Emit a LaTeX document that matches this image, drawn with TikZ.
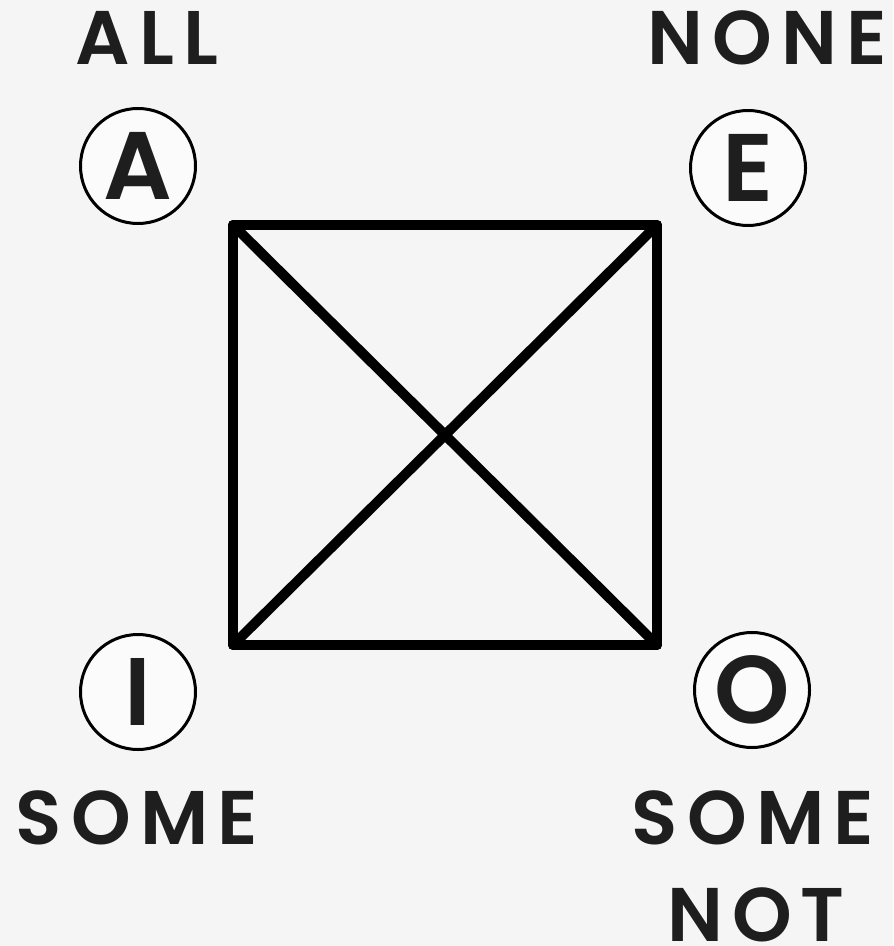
\documentclass[tikz,border=0pt]{standalone}
\usepackage{fontspec}
\setmainfont{Poppins}[BoldFont=Poppins SemiBold]
\newfontfamily\spacedfont{Poppins}[BoldFont=Poppins SemiBold, LetterSpace=12]
\usetikzlibrary{positioning}
\definecolor{paper}{HTML}{F5F5F5}
\definecolor{ink}{HTML}{1E1E1E}

\begin{document}
\begin{tikzpicture}[
	x=0.5pt, y=-0.5pt,
	letter/.style={
		circle,
		draw=black,
		line width=1.5pt,
		fill=white!60!paper,
		minimum size=57.5pt,
		inner sep=0pt,
		text=ink,
		font=\fontsize{48}{48}\selectfont\bfseries
	},
	quantifier/.style={
		text=ink,
		inner sep=0pt,
		font=\spacedfont\fontsize{38}{40}\selectfont\bfseries
	},
	edge/.style={
		line width=5pt,
		line cap=round,
		line join=round
	}
	]
	\fill[paper] (0,0) rectangle (893,946);
	\useasboundingbox (0,0) rectangle (893,946);

	% corners of the square
	\coordinate (tl) at (233,225);
	\coordinate (tr) at (657,225);
	\coordinate (br) at (657,645);
	\coordinate (bl) at (233,645);

	\draw[edge] (tl) -- (tr) -- (br) -- (bl) -- cycle;
	\draw[edge] (tl) -- (br);
	\draw[edge] (tr) -- (bl);

	% the four letters
	\node[letter] (A) at (138,166) {A};
	\node[letter] (E) at (748,168) {E};
	\node[letter] (I) at (138,692) {I};
	\node[letter] (O) at (752,690) {O};

	\node[quantifier] (all) at (147,38) {ALL};
	\node[quantifier] (none) at (767,38) {NONE};
	\node[quantifier] (some) at (137,818) {SOME};
	\node[quantifier] (somenot) at (753,818) {SOME};
	\node[quantifier] (not) at (756,915) {NOT};
\end{tikzpicture}
\end{document}
